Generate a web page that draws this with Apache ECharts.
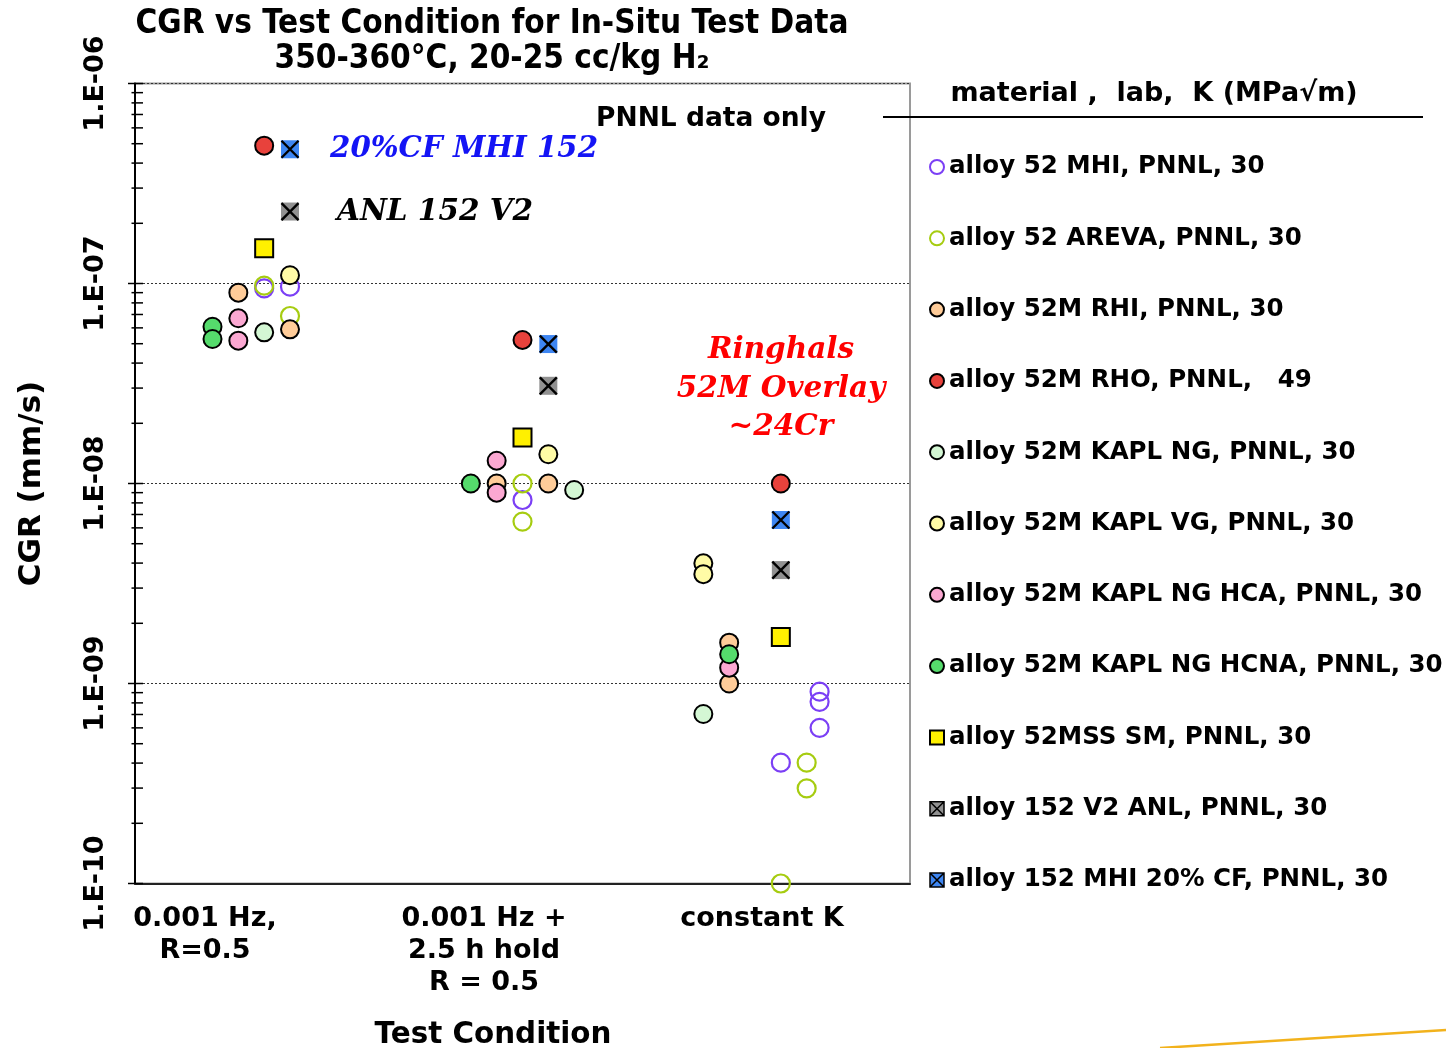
<!DOCTYPE html>
<html><head><meta charset="utf-8">
<script src="https://cdn.jsdelivr.net/npm/echarts@6/dist/echarts.min.js"></script>
<style>html,body{margin:0;padding:0;background:#fff}#c{width:1446px;height:1048px}</style>
</head><body><div id="c"></div>
<script>
// ---------------- data ----------------
const conditionLabels = ['0.001 Hz,\nR=0.5', '0.001 Hz +\n2.5 h hold\nR = 0.5', 'constant K'];
const seriesNames = [
  'alloy 52 MHI, PNNL, 30',
  'alloy 52 AREVA, PNNL, 30',
  'alloy 52M RHI, PNNL, 30',
  'alloy 52M RHO, PNNL,   49',
  'alloy 52M KAPL NG, PNNL, 30',
  'alloy 52M KAPL VG, PNNL, 30',
  'alloy 52M KAPL NG HCA, PNNL, 30',
  'alloy 52M KAPL NG HCNA, PNNL, 30',
  'alloy 52MSS SM, PNNL, 30',
  'alloy 152 V2 ANL, PNNL, 30',
  'alloy 152 MHI 20% CF, PNNL, 30'
];
// [x position within test-condition cluster, CGR mm/s]
const mhi52   = [[1.2, 9.46e-8], [1.3, 9.64e-8], [2.2, 8.27e-9], [3.2, 4.02e-10], [3.35, 9.1e-10], [3.35, 8.1e-10], [3.35, 6.0e-10]];
const areva52 = [[1.2, 9.75e-8], [1.3, 6.88e-8], [2.2, 1.0e-8], [2.2, 6.45e-9], [3.3, 4.02e-10], [3.3, 2.99e-10], [3.2, 1.0e-10]];
const rhi52M  = [[1.1, 9.0e-8], [1.3, 5.9e-8], [2.1, 1.0e-8], [2.3, 1.0e-8], [3.0, 1.6e-9], [3.0, 1.0e-9]];
const rho52M  = [[1.2, 4.89e-7], [2.2, 5.22e-8], [3.2, 1.0e-8]];
const kaplNG  = [[1.2, 5.7e-8], [2.4, 9.28e-9], [2.9, 7.04e-10]];
const kaplVG  = [[1.3, 1.10e-7], [2.3, 1.40e-8], [2.9, 3.99e-9], [2.9, 3.52e-9]];
const kaplHCA = [[1.1, 6.7e-8], [1.1, 5.18e-8], [2.1, 1.30e-8], [2.1, 9.0e-9], [3.0, 1.2e-9]];
const kaplHCNA= [[1.0, 6.08e-8], [1.0, 5.28e-8], [2.0, 1.0e-8], [3.0, 1.40e-9]];
const ss52M   = [[1.2, 1.50e-7], [2.2, 1.70e-8], [3.2, 1.71e-9]];
const anl152  = [[1.3, 2.29e-7], [2.3, 3.08e-8], [3.2, 3.69e-9]];
const mhiCF152= [[1.3, 4.69e-7], [2.3, 4.98e-8], [3.2, 6.57e-9]];

const yDecades = [1e-10, 1e-9, 1e-8, 1e-7, 1e-6];
const yMinorMultipliers = [2, 3, 4, 5, 6, 7, 8, 9];

// ---------------- build ----------------
const SANS = '"DejaVu Sans", Verdana, sans-serif';
const COND = '"DejaVu Sans Condensed", "DejaVu Sans", sans-serif';
const SERIF = '"DejaVu Serif", serif';
const XMIN = 0.7, XMAX = 3.7;

const tickData = [];
yDecades.forEach(d => tickData.push([XMIN, d, 1]));
yDecades.slice(0, -1).forEach(d => yMinorMultipliers.forEach(m => tickData.push([XMIN, d * m, 0])));

function circleSeries(name, data, fill) {
  return { name, type: 'scatter', data, symbol: 'circle', symbolSize: 18,
    itemStyle: { color: fill, borderColor: '#000', borderWidth: 2, opacity: 1 } };
}
function ringSeries(name, data, col) {
  return { name, type: 'scatter', data, symbol: 'circle', symbolSize: 18,
    itemStyle: { color: 'rgba(255,255,255,0)', borderColor: col, borderWidth: 2.2, opacity: 1 } };
}
function xSquare(name, data, fill) {
  return [
    { name, type: 'scatter', data, symbol: 'rect', symbolSize: 18,
      itemStyle: { color: fill, borderColor: fill, borderWidth: 0, opacity: 1 } },
    { name: name + ' x', type: 'scatter', data, symbol: 'path://M0,0L10,10M10,0L0,10', symbolSize: 17,
      itemStyle: { color: 'rgba(0,0,0,0)', borderColor: '#000', borderWidth: 2.4, opacity: 1 }, silent: true }
  ];
}

const series = [
  ringSeries(seriesNames[0], mhi52, '#7B3FF5'),
  ringSeries(seriesNames[1], areva52, '#A6CC10'),
  circleSeries(seriesNames[2], rhi52M, '#FFCC99'),
  circleSeries(seriesNames[3], rho52M, '#E8423C'),
  circleSeries(seriesNames[4], kaplNG, '#D4F7D4'),
  circleSeries(seriesNames[5], kaplVG, '#FFFBA6'),
  circleSeries(seriesNames[6], kaplHCA, '#FBA8D2'),
  circleSeries(seriesNames[7], kaplHCNA, '#55DB6C'),
  { name: seriesNames[8], type: 'scatter', data: ss52M, symbol: 'rect', symbolSize: 18,
    itemStyle: { color: '#FFF000', borderColor: '#000', borderWidth: 2, opacity: 1 } },
  ...xSquare(seriesNames[9], anl152, '#919191'),
  ...xSquare(seriesNames[10], mhiCF152, '#3E86F2'),
  { name: 'ticks', type: 'custom', data: tickData, silent: true, clip: false, z: 5,
    encode: { x: 0, y: 1 },
    renderItem: function (params, api) {
      const p = api.coord([api.value(0), api.value(1)]);
      const major = api.value(2) === 1;
      return { type: 'line', shape: { x1: p[0] - (major ? 7 : 3.5), y1: p[1], x2: p[0] + 8, y2: p[1] },
        style: { stroke: '#000', lineWidth: 1.5 } };
    } }
];
series.forEach(s => { s.animation = false; });

const xIcon = 'path://M0,0L10,0L10,10L0,10Z M0,0L10,10 M10,0L0,10';
const legendData = seriesNames.map((n, i) => {
  if (i === 9 || i === 10) return { name: n, icon: xIcon, itemStyle: { borderColor: '#000', borderWidth: 1.5 } };
  return { name: n };
});

function txt(text, x, y, font, fill, extra) {
  return Object.assign({ type: 'text', silent: true, z: 100,
    style: Object.assign({ text, x, y, font, fill, align: 'center', verticalAlign: 'middle',
      textAlign: 'center', textVerticalAlign: 'middle' }, extra || {}) });
}

const condX = [205, 484, 762];
const graphics = [
  txt('CGR vs Test Condition for In-Situ Test Data\n350-360°C, 20-25 cc/kg H₂', 492, 42, 'bold 33px ' + COND, '#000', { lineHeight: 35 }),
  txt('PNNL data only', 711, 119, 'bold 26.5px ' + SANS, '#000'),
  txt('20%CF MHI 152', 330, 149, 'italic bold 29.3px ' + SERIF, '#1414F5', { align: 'left', textAlign: 'left' }),
  txt('ANL 152 V2', 337, 212, 'italic bold 29.5px ' + SERIF, '#000', { align: 'left', textAlign: 'left' }),
  txt('Ringhals\n52M Overlay\n~24Cr', 781, 389, 'italic bold 29.5px ' + SERIF, '#FF0000', { lineHeight: 38.5 }),
  txt('material ,  lab,  K (MPa√m)', 1154, 94, 'bold 27px ' + SANS, '#000'),
  { type: 'line', silent: true, shape: { x1: 883, y1: 117, x2: 1423, y2: 117 }, style: { stroke: '#000', lineWidth: 2 } },
  txt('Test Condition', 493, 1035, 'bold 29.4px ' + SANS, '#000'),
  { type: 'line', silent: true, shape: { x1: 1160, y1: 1048, x2: 1446, y2: 1030 }, style: { stroke: '#F2B21C', lineWidth: 2.5 } }
];
conditionLabels.forEach((c, i) => {
  graphics.push(txt(c, condX[i], 903, 'bold 27px ' + SANS, '#000', { lineHeight: 32, verticalAlign: 'top', textVerticalAlign: 'top' }));
});

const chart = echarts.init(document.getElementById('c'), null, { renderer: 'canvas' });
chart.setOption({
  animation: false,
  backgroundColor: '#fff',
  grid: { left: 135, right: 536, top: 83.5, bottom: 164.5, show: true, borderColor: '#9a9a9a', borderWidth: 2, backgroundColor: 'transparent' },
  xAxis: { type: 'value', min: XMIN, max: XMAX,
    axisLine: { show: true, onZero: false, lineStyle: { color: '#222', width: 2 } },
    axisTick: { show: false }, axisLabel: { show: false }, splitLine: { show: false } },
  yAxis: { type: 'log', logBase: 10, min: 1e-10, max: 1e-6, interval: 1,
    name: 'CGR (mm/s)', nameLocation: 'middle', nameRotate: 90, nameGap: 88,
    nameTextStyle: { fontFamily: SANS, fontWeight: 'bold', fontSize: 31, color: '#000' },
    axisLine: { show: true, lineStyle: { color: '#000', width: 2 } },
    axisTick: { show: false },
    minorTick: { show: false },
    axisLabel: { rotate: 90, margin: 26, fontFamily: SANS, fontWeight: 'bold', fontSize: 27, color: '#000',
      formatter: v => '1.E-' + String(Math.round(-Math.log10(v))).padStart(2, '0') },
    splitLine: { show: true, showMinLine: false, showMaxLine: false, lineStyle: { color: '#333', type: [2, 2], width: 1 } } },
  legend: { orient: 'vertical', left: 929, top: 154.5, padding: 0, itemWidth: 14, itemHeight: 14, itemGap: 46.3,
    selectedMode: false, data: legendData,
    textStyle: { fontFamily: SANS, fontWeight: 'bold', fontSize: 24.5, color: '#000', lineHeight: 24 } },
  graphic: graphics,
  series
});
</script></body></html>
